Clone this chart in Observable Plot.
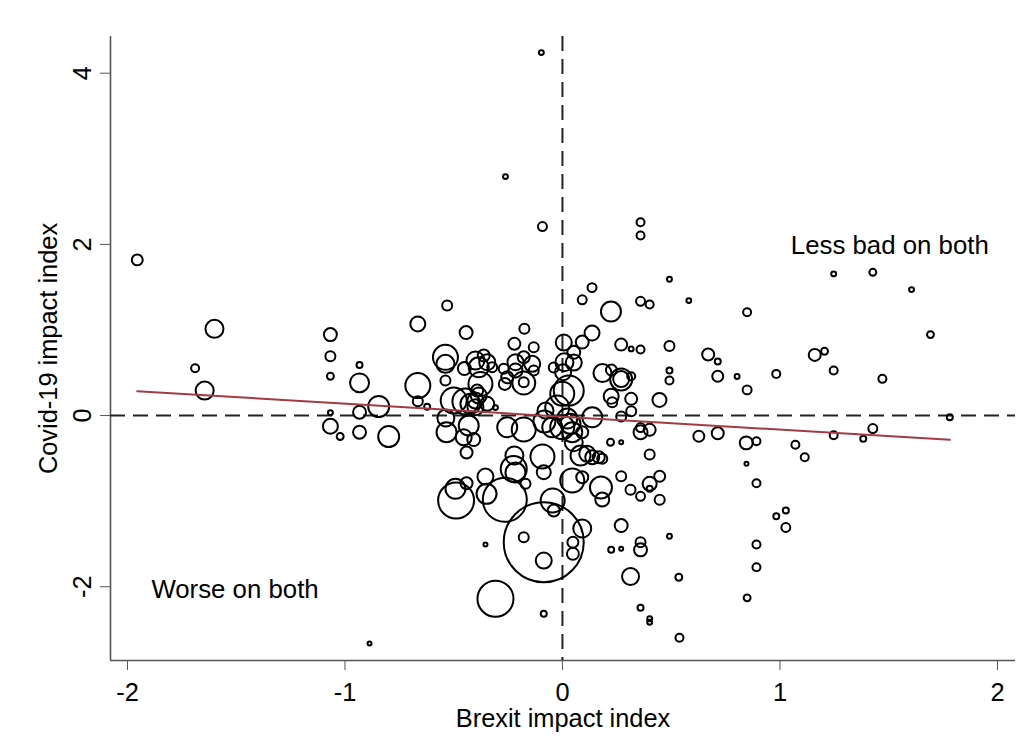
<!DOCTYPE html>
<html>
<head>
<meta charset="utf-8">
<script src="https://cdn.jsdelivr.net/npm/d3@7"></script>
<script src="https://cdn.jsdelivr.net/npm/@observablehq/plot@0.6"></script>
<style>
  html, body { margin: 0; padding: 0; background: #fff; }
  #chart { width: 1028px; height: 752px; }
</style>
</head>
<body>
<div id="chart"></div>
<script>
// Brexit impact index (x) for each local area
const brexit = [
  -1.955,-1.600,-1.689,-1.645,-1.067,-1.067,-1.067,-1.067,-1.067,-1.022,
  -0.933,-0.933,-0.933,-0.933,-0.845,-0.799,-0.665,-0.665,-0.665,-0.622,
  -0.887,-0.530,-0.443,-0.175,-0.221,-0.132,-0.538,-0.538,-0.538,-0.451,
  -0.400,-0.362,-0.385,-0.346,-0.323,-0.270,-0.216,-0.178,-0.139,-0.216,
  -0.132,-0.254,-0.265,-0.178,-0.178,-0.040,-0.377,-0.392,-0.385,-0.500,
  -0.446,-0.423,-0.400,-0.400,-0.346,-0.308,-0.536,-0.533,-0.431,-0.454,
  -0.408,-0.441,-0.254,-0.178,-0.221,-0.224,-0.216,-0.092,-0.086,-0.170,
  -0.354,-0.489,-0.492,-0.441,-0.349,-0.265,-0.045,-0.040,-0.086,-0.178,
  -0.086,-0.354,-0.308,-0.086,-0.097,-0.262,-0.092,0.006,0.052,0.009,
  0.052,0.003,0.029,-0.001,-0.078,-0.024,0.022,-0.083,-0.047,-0.001,
  0.037,0.045,0.052,0.091,0.083,0.114,0.137,0.167,0.183,0.045,
  0.091,0.177,0.183,0.091,0.048,0.048,0.136,0.091,0.223,0.136,
  0.091,0.270,0.316,0.359,0.359,0.359,0.492,0.359,0.401,0.581,
  0.849,0.492,0.670,0.714,0.492,0.492,0.714,0.803,0.849,0.184,
  0.225,0.270,0.270,0.316,0.224,0.229,0.316,0.316,0.270,0.446,
  0.137,0.221,0.270,0.359,0.359,0.401,0.401,0.627,0.714,0.845,
  0.892,0.846,0.892,0.270,0.401,0.447,0.401,0.313,0.359,0.447,
  0.270,0.359,0.359,0.224,0.270,0.492,0.313,0.535,0.359,0.401,
  0.401,0.538,0.892,0.892,0.849,1.247,1.427,1.605,1.692,1.160,
  1.205,0.983,1.247,1.471,1.781,1.071,1.114,1.247,1.383,1.427,
  0.983,1.027,1.027
];
// Covid-19 impact index (y)
const covid = [
  1.819,1.013,0.553,0.292,0.946,0.693,0.459,0.032,-0.125,-0.245,
  0.592,0.382,0.039,-0.195,0.105,-0.245,1.071,0.350,0.167,0.102,
  -2.664,1.285,0.970,1.013,0.838,0.798,0.681,0.604,0.409,0.549,
  0.643,0.701,0.564,0.623,0.564,0.546,0.623,0.681,0.604,0.526,
  0.526,0.447,0.370,0.380,0.389,0.561,0.370,0.292,0.234,0.175,
  0.164,0.137,0.175,0.097,0.137,0.093,-0.029,-0.195,-0.117,-0.254,
  -0.280,-0.432,-0.137,-0.164,-0.467,-0.623,-0.666,-0.479,-0.662,-0.798,
  -0.713,-0.993,-0.856,-0.791,-0.915,-0.985,-0.993,-1.110,-1.480,-1.422,
  -1.694,-1.507,-2.141,-2.317,4.241,2.792,2.208,0.853,0.739,0.623,
  0.619,0.506,0.292,0.254,0.058,0.093,-0.035,-0.070,-0.137,-0.137,
  -0.097,-0.195,-0.312,-0.195,-0.467,-0.447,-0.487,-0.487,-0.506,-0.759,
  -0.721,-0.841,-0.981,-1.320,-1.480,-1.616,1.495,1.352,1.215,0.964,
  0.859,0.829,0.779,0.771,2.258,2.103,1.592,1.335,1.297,1.343,
  1.207,0.814,0.713,0.631,0.526,0.409,0.459,0.456,0.300,0.496,
  0.532,0.426,0.421,0.459,0.225,0.155,0.195,0.050,-0.012,0.183,
  -0.020,-0.312,-0.312,-0.195,-0.140,-0.167,-0.456,-0.242,-0.207,-0.319,
  -0.300,-0.564,-0.791,-0.709,-0.798,-0.709,-0.856,-0.868,-0.943,-0.985,
  -1.285,-1.480,-1.569,-1.569,-1.557,-1.410,-1.881,-1.889,-2.246,-2.375,
  -2.415,-2.597,-1.507,-1.772,-2.130,1.655,1.674,1.472,0.946,0.709,
  0.751,0.487,0.526,0.429,-0.020,-0.342,-0.487,-0.230,-0.272,-0.152,
  -1.176,-1.110,-1.308
];
// Weight of each area (marker area)
const weight = [
  30,81,16,81,42,25,12,6,56,12,
  9,90,42,42,110,110,56,156,25,9,
  4,25,42,25,36,25,156,81,25,42,
  81,36,100,64,25,25,64,36,64,49,
  25,36,36,132,25,25,144,36,64,169,
  169,100,64,64,49,6,72,100,100,64,
  42,36,100,144,81,169,100,144,49,25,
  64,324,100,36,100,484,144,36,1600,25,
  64,4,324,9,6,6,20,64,42,81,
  64,64,225,144,64,144,100,121,100,144,
  100,100,81,36,100,64,49,36,25,144,
  36,121,49,81,30,36,20,20,100,56,
  42,36,6,16,16,16,6,20,16,6,
  16,25,36,9,9,16,30,6,20,81,
  30,64,121,16,56,25,36,25,25,49,
  100,12,4,49,20,36,25,30,36,42,
  16,4,16,25,49,30,9,25,20,25,
  42,25,42,9,4,6,72,12,9,6,
  6,16,16,16,12,6,12,6,12,36,
  12,16,16,16,9,16,16,16,9,20,
  9,9,20
];
// Weighted linear fit: covid = intercept + slope * brexit
const fitIntercept = -0.013;
const fitSlope = -0.152;

const xTicks = [-2, -1, 0, 1, 2];
const yTicks = [-2, 0, 2, 4];
const xDomain = [-2.078, 2.083];
const yDomain = [-2.862, 4.429];

const annotations = [
  {x: 1.05, y: 1.99, label: "Less bad on both"},
  {x: -1.89, y: -2.03, label: "Worse on both"}
];

const points = brexit.map((b, i) => ({brexit: b, covid: covid[i], weight: weight[i]}));
const xMin = d3.min(brexit), xMax = d3.max(brexit);
const fit = [xMin, xMax].map(x => ({brexit: x, covid: fitIntercept + fitSlope * x}));

const chart = Plot.plot({
  width: 1028,
  height: 752,
  marginLeft: 110,
  marginRight: 13,
  marginTop: 36,
  marginBottom: 92,
  style: {fontFamily: "'Liberation Sans', Arial, sans-serif", fontSize: "25.4px", background: "#fff", color: "#000"},
  x: {domain: xDomain},
  y: {domain: yDomain},
  r: {type: "sqrt", domain: [0, 1600], range: [0, 40]},
  marks: [
    Plot.ruleX([xDomain[0]], {stroke: "#555", strokeWidth: 1.6}),
    Plot.ruleY([yDomain[0]], {stroke: "#555", strokeWidth: 1.6}),
    Plot.ruleX([0], {stroke: "#222", strokeWidth: 2, strokeDasharray: "15,8"}),
    Plot.ruleY([0], {stroke: "#222", strokeWidth: 2, strokeDasharray: "15,8"}),
    Plot.dot(points, {x: "brexit", y: "covid", r: "weight", fill: "none", stroke: "#000", strokeWidth: 2}),
    Plot.line(fit, {x: "brexit", y: "covid", stroke: "#a23b44", strokeWidth: 2}),
    Plot.text(annotations, {x: "x", y: "y", text: "label", textAnchor: "start", fill: "#000", fontSize: 25.8}),
    Plot.axisX({ticks: xTicks, tickSize: 10, tickPadding: 12, tickFormat: d => String(d), stroke: "#555", fill: "#000",
      label: "Brexit impact index", labelAnchor: "center", labelOffset: 66, labelArrow: false}),
    Plot.axisY({ticks: yTicks, tickSize: 10, tickPadding: 10, tickRotate: -90, tickFormat: d => String(d), stroke: "#555", fill: "#000",
      label: "Covid-19 impact index", labelAnchor: "center", labelOffset: 72, labelArrow: false})
  ]
});
document.getElementById("chart").appendChild(chart);
</script>
</body>
</html>
